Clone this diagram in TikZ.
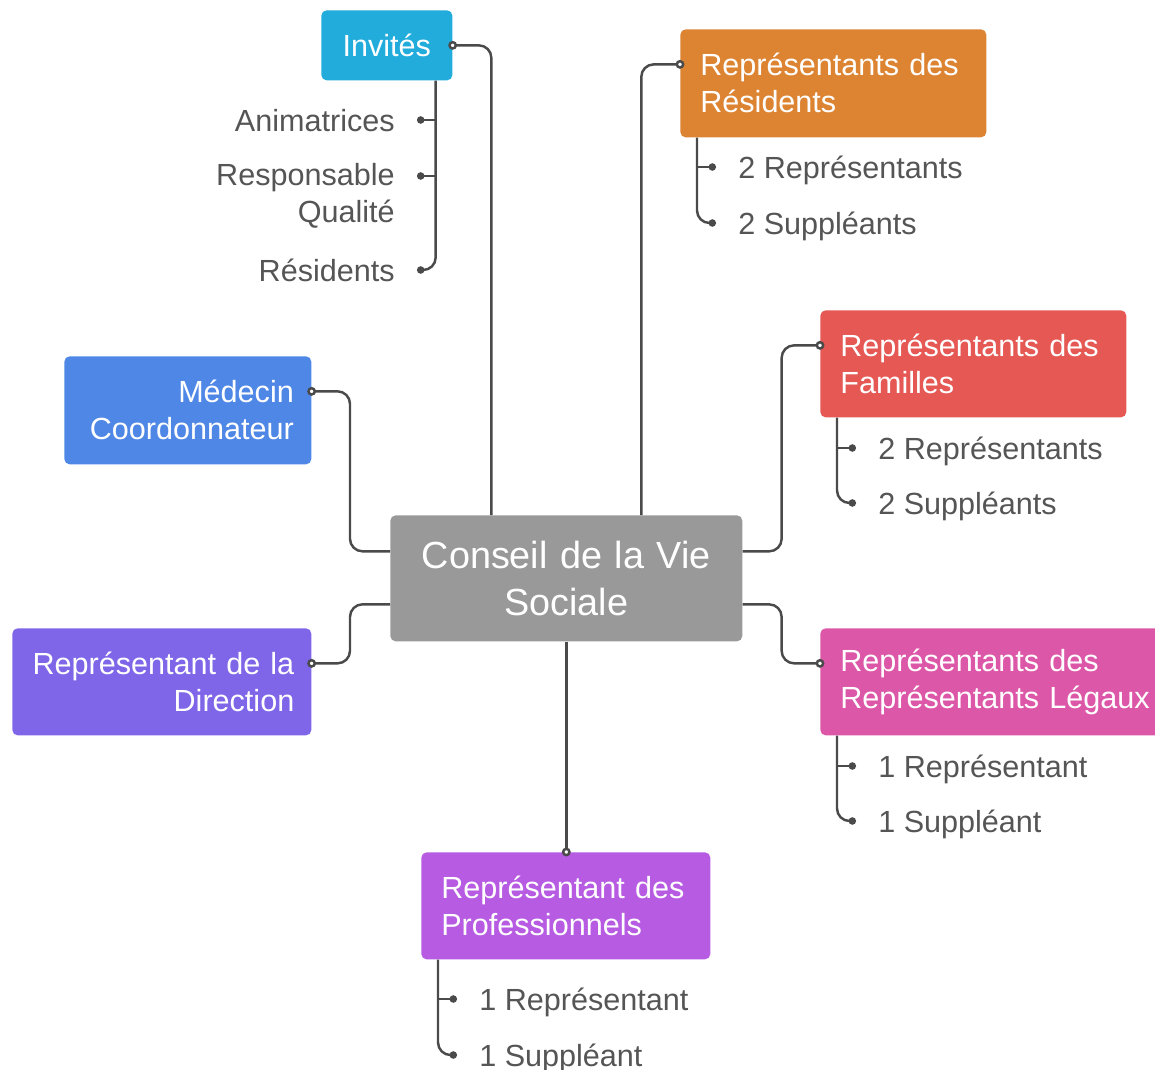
\documentclass[tikz,border=0pt]{standalone}
\usepackage{fontspec}
\setmainfont{Liberation Sans}
\usetikzlibrary{arrows.meta}
\definecolor{linegray}{HTML}{4A4A4A}
\definecolor{leafgray}{HTML}{555555}
\definecolor{cinv}{HTML}{21ACDC}
\definecolor{cres}{HTML}{DD8433}
\definecolor{cfam}{HTML}{E55854}
\definecolor{cleg}{HTML}{DD57A8}
\definecolor{cmed}{HTML}{4F87E6}
\definecolor{cdir}{HTML}{7F65E8}
\definecolor{cpro}{HTML}{B65BE2}
\definecolor{cctr}{HTML}{999999}
\begin{document}
\begin{tikzpicture}[x=0.02cm,y=-0.02cm,
				link/.style = {draw=linegray, line width=1.4pt, rounded corners=0.25cm},
				open end/.style = {-{Circle[open,length=5pt,width=5pt,fill=white]}, shorten >=-2.5pt},
				dot end/.style = {-{Circle[length=4.2pt,width=4.2pt]}},
				main node/.style = {rounded corners=3pt, text=white, font=\fontsize{17.4}{21}\selectfont, inner xsep=0.4cm, inner ysep=0pt, anchor=north west},
				leaf node/.style = {text=leafgray, font=\fontsize{17.4}{21}\selectfont, inner xsep=0.44cm, inner ysep=0pt, text depth=0pt}]
				
				\useasboundingbox (0,0) rectangle (1155,1070);
				
				\node[main node,fill=cctr,minimum width=7.04cm,minimum height=2.52cm,text width=6.24cm,align=center,font=\fontsize{21.5}{26.7}\selectfont] (ctr) at (390,515) {Conseil de la Vie\\Sociale};
				\node[main node,fill=cinv,minimum width=2.62cm,minimum height=1.4cm,text width=1.82cm,align=center] (inv) at (321,10) {Invités};
				\node[main node,fill=cres,minimum width=6.12cm,minimum height=2.16cm,text width=5.32cm,align=left] (res) at (680,29) {Représentants des\\Résidents};
				\node[main node,fill=cfam,minimum width=6.12cm,minimum height=2.14cm,text width=5.32cm,align=left] (fam) at (820,310) {Représentants des\\Familles};
				\node[main node,fill=cleg,minimum width=7.2cm,minimum height=2.14cm,text width=6.4cm,align=left] (leg) at (820,628) {Représentants des\\Représentants Légaux};
				\node[main node,fill=cmed,minimum width=4.94cm,minimum height=2.16cm,text width=4.24cm,inner xsep=0.35cm,align=right] (med) at (64,356) {Médecin\\Coordonnateur};
				\node[main node,fill=cdir,minimum width=5.98cm,minimum height=2.14cm,text width=5.3cm,inner xsep=0.34cm,align=right] (dir) at (12,628) {Représentant de la\\Direction};
				\node[main node,fill=cpro,minimum width=5.78cm,minimum height=2.14cm,text width=4.98cm,align=left] (pro) at (421,852) {Représentant des\\Professionnels};
				
				\node[leaf node,anchor=east] (anim) at (417,120) {Animatrices};
				\node[leaf node,anchor=north east,align=right] (qual) at (417,163) {Responsable\\Qualité};
				\node[leaf node,anchor=east] (resi) at (417,270) {Résidents};
				\node[leaf node,anchor=west] (res1) at (716,167) {2 Représentants};
				\node[leaf node,anchor=west] (res2) at (716,223) {2 Suppléants};
				\node[leaf node,anchor=west] (fam1) at (856,448) {2 Représentants};
				\node[leaf node,anchor=west] (fam2) at (856,503) {2 Suppléants};
				\node[leaf node,anchor=west] (leg1) at (856,766) {1 Représentant};
				\node[leaf node,anchor=west] (leg2) at (856,821) {1 Suppléant};
				\node[leaf node,anchor=west] (pro1) at (457,999) {1 Représentant};
				\node[leaf node,anchor=west] (pro2) at (457,1055) {1 Suppléant};
				
				\coordinate (inv t) at ([xshift=-0.34cm]inv.south east);
				\coordinate (qual t) at ([yshift=-0.26cm]qual.north east);
				\coordinate (res t) at ([xshift=0.34cm]res.south west);
				\coordinate (fam t) at ([xshift=0.34cm]fam.south west);
				\coordinate (leg t) at ([xshift=0.34cm]leg.south west);
				\coordinate (pro t) at ([xshift=0.34cm]pro.south west);
				
				\draw[link,open end] ([xshift=-1.5cm]ctr.north) |- (inv.east);
				\draw[link,open end] ([xshift=1.5cm]ctr.north) |- ([yshift=0.38cm]res.west);
				\draw[link,open end] ([yshift=0.54cm]ctr.east) -- ++(39,0) |- ([yshift=0.37cm]fam.west);
				\draw[link,open end] ([yshift=-0.52cm]ctr.east) -- ++(39,0) |- ([yshift=0.37cm]leg.west);
				\draw[link,open end] ([yshift=0.54cm]ctr.west) -- ++(-40,0) |- ([yshift=0.38cm]med.east);
				\draw[link,open end] ([yshift=-0.52cm]ctr.west) -- ++(-40,0) |- ([yshift=0.37cm]dir.east);
				\draw[link,open end] (ctr.south) -- (ctr.south |- pro.north);
				
				\draw[link,dot end] (inv t) |- (resi.east);
				\draw[link,dot end] (inv t |- anim.east) -- (anim.east);
				\draw[link,dot end] (inv t |- qual t) -- (qual t);
				\draw[link,dot end] (res t) |- (res2.west);
				\draw[link,dot end] (res t |- res1.west) -- (res1.west);
				\draw[link,dot end] (fam t) |- (fam2.west);
				\draw[link,dot end] (fam t |- fam1.west) -- (fam1.west);
				\draw[link,dot end] (leg t) |- (leg2.west);
				\draw[link,dot end] (leg t |- leg1.west) -- (leg1.west);
				\draw[link,dot end] (pro t) |- (pro2.west);
				\draw[link,dot end] (pro t |- pro1.west) -- (pro1.west);
				\end{tikzpicture}
\end{document}
